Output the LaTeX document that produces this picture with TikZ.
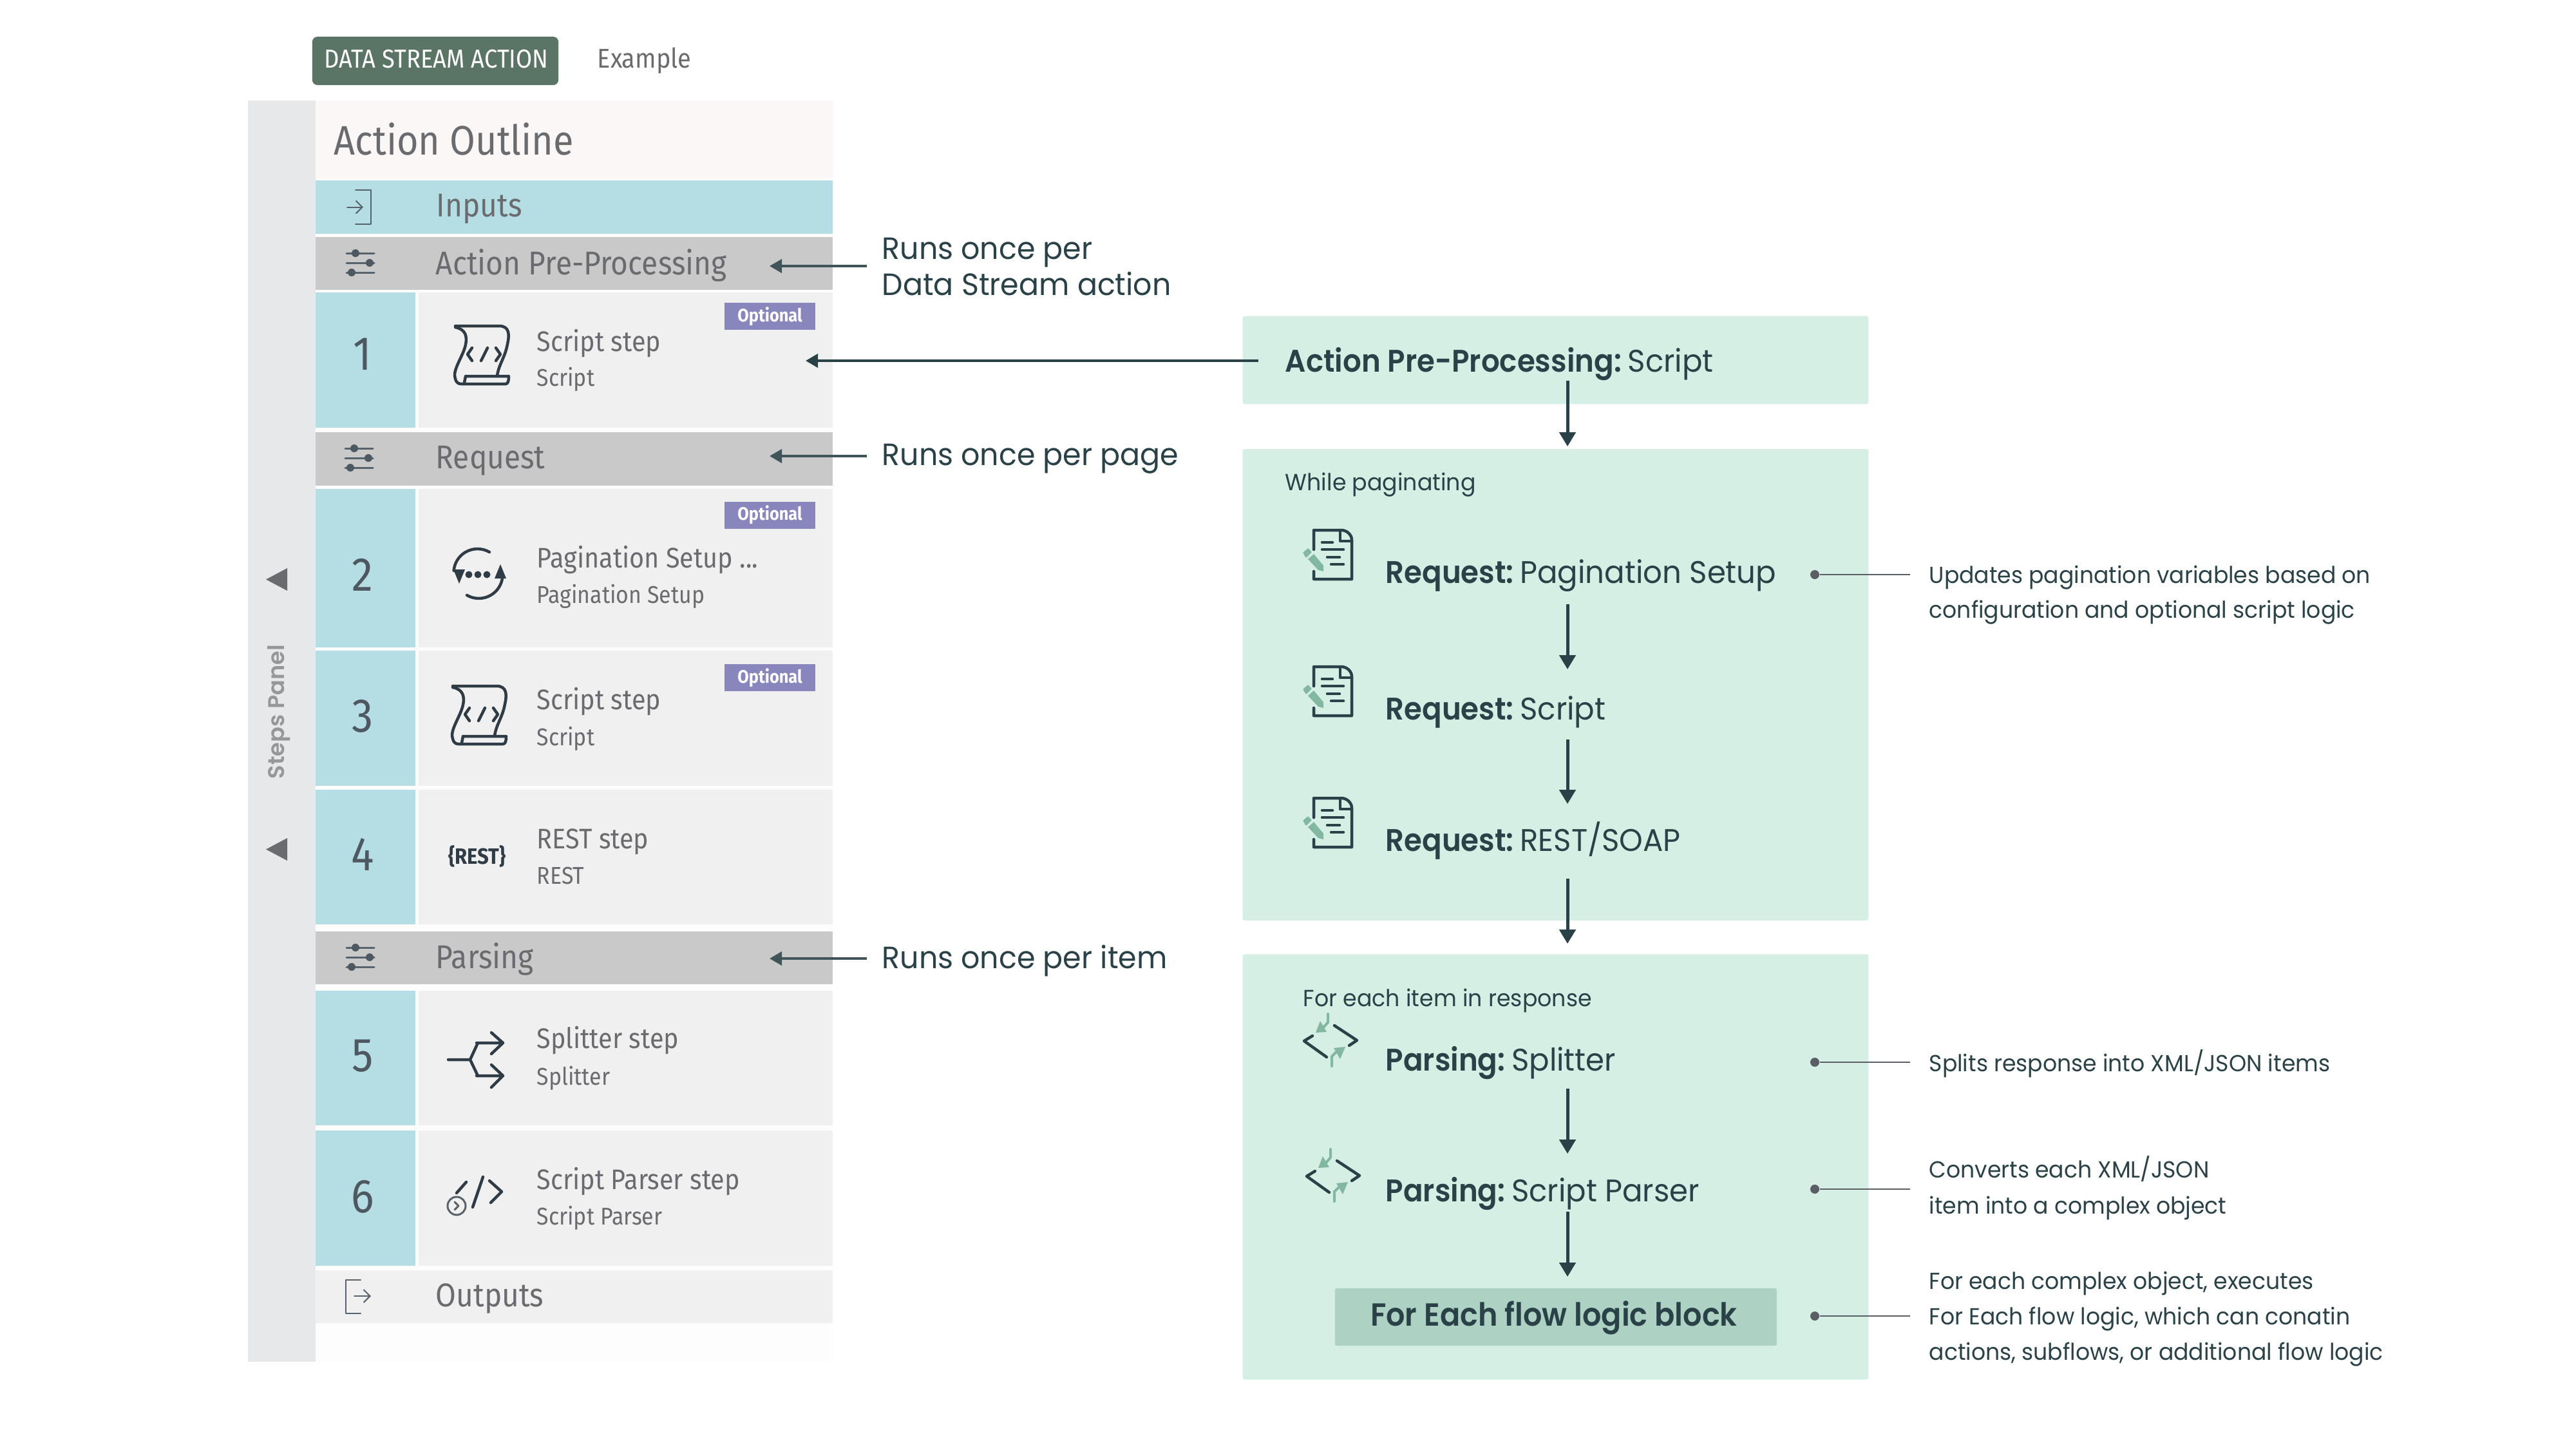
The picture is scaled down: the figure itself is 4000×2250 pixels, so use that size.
\documentclass[tikz,border=0pt]{standalone}
\usepackage{fontspec}
\usetikzlibrary{arrows.meta}
\setmainfont{Poppins}[BoldFont={Poppins SemiBold},FakeStretch=.96,BoldFeatures={FakeStretch=.93}]
\newfontfamily\uifont{Fira Sans}[FakeStretch=0.9]
\newfontfamily\panelfont{Poppins SemiBold}
\definecolor{ink}{HTML}{2A4247}
\definecolor{uigray}{HTML}{6A6B6F}
\definecolor{uidark}{HTML}{2F3B45}
\definecolor{tabgreen}{HTML}{5A7466}
\definecolor{cellblue}{HTML}{B5DDE4}
\definecolor{bargray}{HTML}{C9C9C9}
\definecolor{rowgray}{HTML}{F0F0F0}
\definecolor{stripgray}{HTML}{E7E8EA}
\definecolor{headtint}{HTML}{FAF7F6}
\definecolor{paneltint}{HTML}{FDFDFD}
\definecolor{mint}{HTML}{D6EFE4}
\definecolor{mintdark}{HTML}{ADD2C3}
\definecolor{pen}{HTML}{82B8A2}
\definecolor{badge}{HTML}{8886BC}
\definecolor{dotgray}{HTML}{5A5F66}
\newcommand{\fsize}[1]{\fontsize{#1}{#1}\selectfont}
\newcommand{\gap}{\hspace{.2em}}
\tikzset{
  panel/.style={inner sep=0, outer sep=0, draw=none},
  uilabel/.style={inner sep=0, anchor=base west, text=uigray, font=\uifont\fsize{14.55}},
  uisub/.style={inner sep=0, anchor=base west, text=uigray, font=\uifont\fsize{10.7}},
  uistep/.style={inner sep=0, anchor=base west, text=uigray, font=\uifont\fsize{12.5}},
  stepnum/.style={inner sep=0, anchor=base, text=uidark!85, font=\uifont\fsize{21}},
  optional/.style={panel, fill=badge, minimum width=1.41cm, minimum height=.42cm, text=white, font=\uifont\bfseries\fsize{8}},
  note/.style={inner sep=0, anchor=base west, text=ink, font=\fsize{13.6}},
  flowtext/.style={inner sep=0, anchor=base west, text=ink, font=\fsize{13.8}},
  small/.style={inner sep=0, anchor=base west, text=ink, font=\fsize{10.3}},
  side/.style={inner sep=0, anchor=base west, text=ink, font=\fsize{10.25}},
  flowarrow/.style={ink, line width=.05cm, -{Triangle[length=.22cm,width=.25cm]}},
  notearrow/.style={ink!90, line width=.04cm, -{Triangle[length=.19cm,width=.21cm]}},
  dotmark/.style={circle, fill=dotgray, minimum size=.14cm, inner sep=0},
  callout/.style={dotgray, line width=.02cm},
  thinicon/.style={uidark!80, line width=.02cm, line cap=round, line join=round},
  icon/.style={uidark, line width=.045cm, line cap=round, line join=round},
  docline/.style={ink, line width=.045cm, line cap=round, line join=round},
}
\newcommand{\sliders}[2]{
\begin{scope}[shift={(#1,#2)}]
\draw [thinicon,line width=.03cm] (-22,-15)--(21,-15) (-22,0)--(21,0) (-22,15)--(21,15);
\fill [uidark!85] (-8,-15) circle (.06cm) (14,0) circle (.06cm) (-14,15) circle (.06cm);
\end{scope}}
\newcommand{\scroll}[2]{
\begin{scope}[shift={(#1,#2)}]
\draw [icon] (0,0)--(68,0) .. controls (85,0) and (84,15) .. (81,28) .. controls (77,50) and (67,60) .. (65,78);
\draw [icon] (0,2) .. controls (15,5) and (20,15) .. (15,33) .. controls (10,50) and (-5,70) .. (0,82) .. controls (2,90) and (7,90) .. (10,90)--(78,90) .. controls (82,90) and (83,85) .. (83,78)--(16,78) (16,78)--(14,88);
\draw [icon] (26,34)--(19,44)--(26,54) (63,34)--(70,44)--(63,54) (50,34)--(40,54);
\end{scope}}
\newcommand{\docicon}[2]{
\begin{scope}[shift={(#1,#2)}]
\draw [docline] (1,31)--(1,1)--(44,1) .. controls (52,1) and (60,8) .. (60,16)--(60,77)--(1,77)--(1,65);
\draw [docline] (42,1)--(42,18)--(60,18);
\draw [docline] (14,20)--(30,20) (14,31)--(47,31) (22,43)--(41,43) (28,54)--(47,54);
\fill [pen] (-8,46)--(1,38)--(16,56)--(16,65)--(8,63)--cycle;
\fill [pen,rounded corners=.01cm] (-16,36)--(-8,29)--(-2,35)--(-11,44)--cycle;
\end{scope}}
\newcommand{\diamondicon}[2]{
\begin{scope}[shift={(#1,#2)}]
\draw [docline] (13,33)--(0,41)--(35,66) (47,17)--(82,40)--(70,48);
\draw [pen,line width=.04cm,line cap=round] (37,-1)--(37,12)--(30,20) (43,80)--(43,65)--(50,58);
\fill [pen] (25,10)--(18,28)--(35,27)--cycle (46,52)--(64,50)--(56,69)--cycle;
\end{scope}}
\begin{document}
\begin{tikzpicture}[x=.01cm,y=-.01cm]
\useasboundingbox (0,0) rectangle (4000,2250);
% tabs
\node [panel,fill=tabgreen,rounded corners=.08cm,minimum width=3.82cm,minimum height=.75cm] (tabaction) at (676,94.5) {};
\node [inner sep=0,anchor=base west,text=white,font=\uifont\fsize{11.5}] (tabtext) at (503,105) {DATA STREAM ACTION};
\node [inner sep=0,anchor=base west,text=uigray,font=\uifont\fsize{12}] (tabexample) at (927,105) {Example};
% steps panel
\node [panel,fill=stripgray,minimum width=1.05cm,minimum height=19.56cm] (strip) at (437.5,1135) {};
\node [panel,fill=paneltint,minimum width=8.03cm,minimum height=19.56cm] (outline) at (891.5,1135) {};
\node [panel,fill=headtint,minimum width=8.03cm,minimum height=1.2cm] (header) at (891.5,217) {};
\node [inner sep=0,anchor=base west,text=uigray,font=\uifont\fsize{18.2}] (title) at (518,240) {Action Outline};
\fill [uigray] (446,882)--(413,899.5)--(446,917)--cycle;
\fill [uigray] (446,1301)--(413,1318.5)--(446,1336)--cycle;
\node [rotate=90,inner sep=0,text=uigray!70,font=\panelfont\fsize{10}] (stepslabel) at (433,1105) {Steps Panel};
% bars
\node [panel,fill=cellblue,minimum width=8.03cm,minimum height=.83cm] (inputs) at (891.5,321.5) {};
\node [uilabel] (inputstext) at (677,336) {Inputs};
\draw [thinicon] (552,295)--(576,295)--(576,348)--(552,348);
\draw [thinicon,-{Straight Barb[length=.1cm,width=.2cm]}] (539,321.5)--(564,321.5);
\node [panel,fill=bargray,minimum width=8.03cm,minimum height=.82cm] (prebar) at (891.5,409) {};
\node [uilabel] (pretext) at (676,426) {Action Pre-Processing};
\sliders{560}{408}
\node [panel,fill=bargray,minimum width=8.03cm,minimum height=.83cm] (reqbar) at (891.5,712.5) {};
\node [uilabel] (reqtext) at (676,727) {Request};
\sliders{558}{711}
\node [panel,fill=bargray,minimum width=8.03cm,minimum height=.82cm] (parsebar) at (891.5,1487) {};
\node [uilabel] (parsetext) at (676,1503) {Parsing};
\sliders{560}{1486}
\node [panel,fill=rowgray,minimum width=8.03cm,minimum height=.82cm] (outputs) at (891.5,2013) {};
\node [uilabel] (outputstext) at (676,2028) {Outputs};
\draw [thinicon] (560,1987)--(537,1987)--(537,2039)--(560,2039);
\draw [thinicon,-{Straight Barb[length=.1cm,width=.2cm]}] (550,2012)--(576,2012);
% steps
\node [panel,fill=cellblue,minimum width=1.55cm,minimum height=2.1cm] (cell1) at (567.5,559) {};
\node [panel,fill=rowgray,minimum width=6.43cm,minimum height=2.1cm] (row1) at (971.5,559) {};
\node [stepnum] (num1) at (563,574) {1};
\node [uistep] (step1) at (833,545) {Script step};
\node [uisub] (sub1) at (833,599) {Script};
\node [optional] (opt1) at (1195.5,491) {Optional};
\scroll{707}{506}
\node [panel,fill=cellblue,minimum width=1.55cm,minimum height=2.45cm] (cell2) at (567.5,882) {};
\node [panel,fill=rowgray,minimum width=6.43cm,minimum height=2.45cm] (row2) at (971.5,882) {};
\node [stepnum] (num2) at (563,917) {2};
\node [uistep] (step2) at (833,881) {Pagination Setup ...};
\node [uisub] (sub2) at (833,936) {Pagination Setup};
\node [optional] (opt2) at (1195.5,799.5) {Optional};
\draw [icon] (760,857) arc (-60:-175:37) coordinate (loopa);
\draw [icon] (725,924) arc (120:5:37) coordinate (loopb);
\fill [uidark] (704,884)--(722,884)--(713,906)--cycle (768,898)--(786,898)--(777,876)--cycle;
\fill [uidark] (728,892) circle (.055cm) (742,892) circle (.055cm) (756,892) circle (.055cm);
\node [panel,fill=cellblue,minimum width=1.55cm,minimum height=2.1cm] (cell3) at (567.5,1115) {};
\node [panel,fill=rowgray,minimum width=6.43cm,minimum height=2.1cm] (row3) at (971.5,1115) {};
\node [stepnum] (num3) at (563,1136) {3};
\node [uistep] (step3) at (833,1101) {Script step};
\node [uisub] (sub3) at (833,1157) {Script};
\node [optional] (opt3) at (1195.5,1052) {Optional};
\scroll{703}{1065}
\node [panel,fill=cellblue,minimum width=1.55cm,minimum height=2.09cm] (cell4) at (567.5,1330.5) {};
\node [panel,fill=rowgray,minimum width=6.43cm,minimum height=2.09cm] (row4) at (971.5,1330.5) {};
\node [stepnum] (num4) at (563,1351) {4};
\node [uistep] (step4) at (833,1317) {REST step};
\node [uisub] (sub4) at (833,1372) {REST};
\node [inner sep=0,text=uidark,font=\uifont\bfseries\fsize{9.8}] (resticon) at (741,1329) {\{REST\}};
\node [panel,fill=cellblue,minimum width=1.55cm,minimum height=2.09cm] (cell5) at (567.5,1642.5) {};
\node [panel,fill=rowgray,minimum width=6.43cm,minimum height=2.09cm] (row5) at (971.5,1642.5) {};
\node [stepnum] (num5) at (563,1663) {5};
\node [uistep] (step5) at (833,1627) {Splitter step};
\node [uisub] (sub5) at (833,1684) {Splitter};
\draw [icon] (696,1645)--(728,1645) (742,1619)--(730,1645)--(742,1670) (740,1619)--(780,1619) (740,1670)--(780,1670) (763,1603)--(781,1619)--(763,1636) (763,1653)--(781,1670)--(763,1688);
\node [panel,fill=cellblue,minimum width=1.55cm,minimum height=2.1cm] (cell6) at (567.5,1860) {};
\node [panel,fill=rowgray,minimum width=6.43cm,minimum height=2.1cm] (row6) at (971.5,1860) {};
\node [stepnum] (num6) at (563,1882) {6};
\node [uistep] (step6) at (833,1846) {Script Parser step};
\node [uisub] (sub6) at (833,1901) {Script Parser};
\draw [icon] (750,1827)--(734,1874) (760,1833)--(779,1850)--(762,1867) (724,1835)--(709,1852);
\draw [thinicon,line width=.03cm] (709,1872) circle (.14cm);
\draw [thinicon,line width=.03cm] (706,1866)--(712,1872)--(706,1878);
% notes on the left
\coordinate (prefrom) at (1346,413);
\coordinate (preto) at (1195,413);
\draw [notearrow] (prefrom) -- (preto);
\coordinate (reqfrom) at (1346,708);
\coordinate (reqto) at (1195,708);
\draw [notearrow] (reqfrom) -- (reqto);
\coordinate (parsefrom) at (1346,1488);
\coordinate (parseto) at (1195,1488);
\draw [notearrow] (parsefrom) -- (parseto);
\node [note] (noteaction) at (1369,402) {Runs once per};
\node [note] (noteaction2) at (1369,458) {Data Stream action};
\node [note] (notepage) at (1369,722) {Runs once per page};
\node [note] (noteitem) at (1369,1503) {Runs once per item};
% flow on the right
\node [panel,fill=mint,rounded corners=.03cm,minimum width=9.71cm,minimum height=1.365cm] (prebox) at (2415.5,559) {};
\node [panel,fill=mint,rounded corners=.03cm,minimum width=9.71cm,minimum height=7.315cm] (reqbox) at (2415.5,1063) {};
\node [panel,fill=mint,rounded corners=.03cm,minimum width=9.71cm,minimum height=6.6cm] (parsebox) at (2415.5,1811.5) {};
\node [panel,fill=mintdark,rounded corners=.03cm,minimum width=6.86cm,minimum height=.89cm] (eachbox) at (2416,2044.5) {};
\coordinate (scriptfrom) at (1954,560);
\coordinate (scriptto) at (1251,560);
\draw [notearrow,ink] (scriptfrom) -- (scriptto);
\node [flowtext] (flowpre) at (1995,577) {\textbf{Action Pre-Processing:}\gap Script};
\node [small] (whilepage) at (1995,761) {While paginating};
\node [flowtext] (flowreq1) at (2151,905) {\textbf{Request:}\gap Pagination Setup};
\node [flowtext] (flowreq2) at (2151,1117) {\textbf{Request:}\gap Script};
\node [flowtext] (flowreq3) at (2151,1321) {\textbf{Request:}\gap REST/SOAP};
\node [small] (foreachitem) at (2023,1562) {For each item in response};
\node [flowtext] (flowparse1) at (2151,1662) {\textbf{Parsing:}\gap Splitter};
\node [flowtext] (flowparse2) at (2151,1865) {\textbf{Parsing:}\gap Script Parser};
\node [inner sep=0,text=ink,font=\bfseries\fsize{14.1},anchor=base] (eachtext) at (2413,2058) {For Each flow logic block};
\docicon{2039}{822}
\docicon{2039}{1034}
\docicon{2039}{1238}
\diamondicon{2025}{1575}
\diamondicon{2029}{1785}
\coordinate (a1) at (2434,591);
\coordinate (b1) at (2434,693);
\draw [flowarrow] (a1) -- (b1);
\coordinate (a2) at (2434,938);
\coordinate (b2) at (2434,1039);
\draw [flowarrow] (a2) -- (b2);
\coordinate (a3) at (2434,1148);
\coordinate (b3) at (2434,1248);
\draw [flowarrow] (a3) -- (b3);
\coordinate (a4) at (2434,1364);
\coordinate (b4) at (2434,1465);
\draw [flowarrow] (a4) -- (b4);
\coordinate (a5) at (2434,1690);
\coordinate (b5) at (2434,1791);
\draw [flowarrow] (a5) -- (b5);
\coordinate (a6) at (2434,1881);
\coordinate (b6) at (2434,1982);
\draw [flowarrow] (a6) -- (b6);
% callouts
\node [dotmark] (dot1) at (2818,892) {};
\coordinate (end1) at (2966,892);
\draw [callout] (dot1) -- (end1);
\node [dotmark] (dot2) at (2818,1649) {};
\coordinate (end2) at (2966,1649);
\draw [callout] (dot2) -- (end2);
\node [dotmark] (dot3) at (2818,1846) {};
\coordinate (end3) at (2966,1846);
\draw [callout] (dot3) -- (end3);
\node [dotmark] (dot4) at (2818,2043) {};
\coordinate (end4) at (2966,2043);
\draw [callout] (dot4) -- (end4);
\node [side] (side1) at (2995,905) {Updates pagination variables based on};
\node [side] (side2) at (2995,959) {configuration and optional script logic};
\node [side] (side3) at (2995,1663) {Splits response into XML/JSON items};
\node [side] (side4) at (2995,1828) {Converts each XML/JSON};
\node [side] (side5) at (2995,1884) {item into a complex object};
\node [side] (side6) at (2995,2001) {For each complex object, executes};
\node [side] (side7) at (2995,2056) {For Each flow logic, which can conatin};
\node [side] (side8) at (2995,2111) {actions, subflows, or additional flow logic};
\end{tikzpicture}
\end{document}
